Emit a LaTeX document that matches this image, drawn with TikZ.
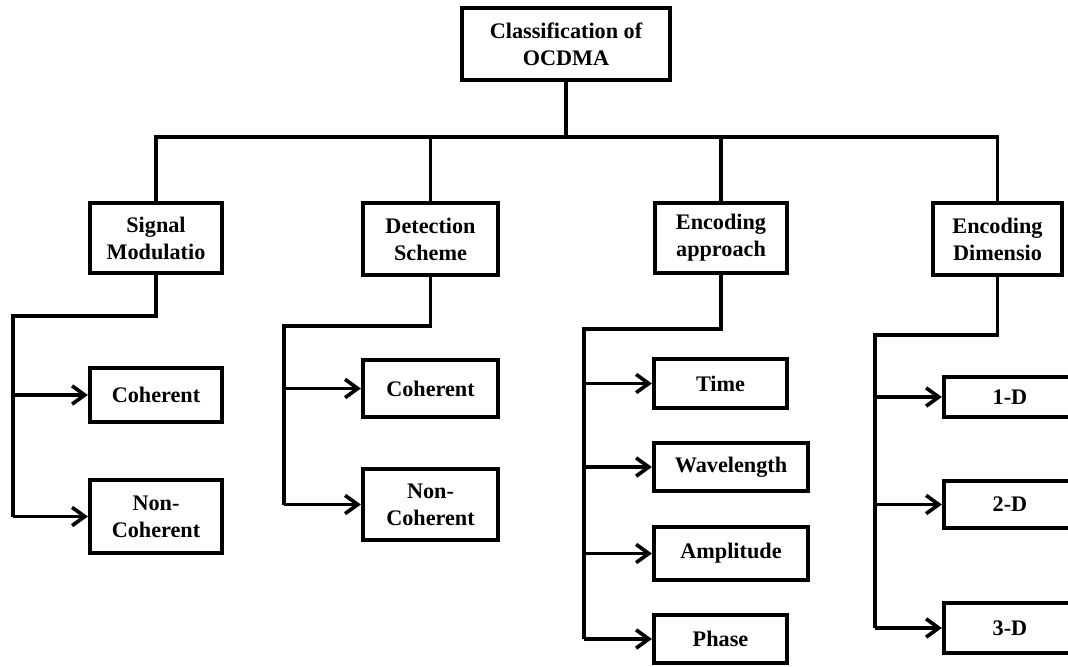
\documentclass[tikz,border=0pt]{standalone}
\usepackage{fontspec}
\setmainfont{Liberation Serif}
\usetikzlibrary{arrows.meta}

\begin{document}
\begin{tikzpicture}[x=0.025cm,y=-0.025cm,
    box/.style={draw, line width=3pt, align=center, inner sep=0pt,
      font=\fontsize{15.8}{19.2}\selectfont\bfseries},
    link/.style={line width=2.6pt, line join=miter},
    arr/.style={line width=2.6pt, -{Straight Barb[length=9pt,width=13pt,line width=2.6pt]}}]
    \clip (0,0) rectangle (1068,666);
    \node[box, line width=3.4pt, minimum width=5.2cm, minimum height=1.8cm] (root) at (566,44) {Classification of\\OCDMA};
    % second level
    \node[box, minimum width=3.3cm, minimum height=1.75cm] (sig) at (156,238) {Signal\\Modulatio};
    \node[box, minimum width=3.375cm, minimum height=1.8cm] (det) at (430.5,239) {Detection\\Scheme};
    \node[box, minimum width=3.3cm, minimum height=1.75cm] (enc) at (721,238) {Encoding\\approach};
    \node[box, minimum width=3.225cm, minimum height=1.8cm] (dim) at (997.5,239) {Encoding\\Dimensio};
    % third level
    \node[box, minimum width=3.3cm, minimum height=1.35cm] (coh1) at (156,395) {Coherent};
    \node[box, minimum width=3.3cm, minimum height=1.825cm] (nc1) at (156,516.5) {Non-\\Coherent};
    \node[box, minimum width=3.375cm, minimum height=1.425cm] (coh2) at (430.5,388.5) {Coherent};
    \node[box, minimum width=3.375cm, minimum height=1.775cm] (nc2) at (430.5,504.5) {Non-\\Coherent};
    \node[box, minimum width=3.325cm, minimum height=1.225cm] (time) at (720.5,383.5) {Time};
    \node[box, minimum width=3.85cm, minimum height=1.2cm] (wave) at (731,467) {Wavelength};
    \node[box, minimum width=3.85cm, minimum height=1.325cm] (ampl) at (731,553.5) {Amplitude};
    \node[box, minimum width=3.325cm, minimum height=1.2cm] (phase) at (720.5,639) {Phase};
    \node[box, minimum width=3.3cm, minimum height=1.0cm] (d1) at (1010,397) {1-D};
    \node[box, minimum width=3.3cm, minimum height=1.175cm] (d2) at (1010,504.5) {2-D};
    \node[box, minimum width=3.3cm, minimum height=1.25cm] (d3) at (1010,628) {3-D};
    % top bar
    \coordinate (bar) at (0,137);
    \draw[link] (root.south) -- (root.south |- bar);
    \draw[link] (sig.north) |- (dim.north |- bar) -- (dim.north);
    \draw[link] (det.north) -- (det.north |- bar);
    \draw[link] (enc.north) -- (enc.north |- bar);
    % branch corners
    \coordinate (k1) at (13,316);
    \coordinate (k2) at (284,326);
    \coordinate (k3) at (584,329);
    \coordinate (k4) at (875,335);
    \draw[link] (sig.south) |- (k1) -- (k1 |- nc1.west);
    \draw[link] (det.south) |- (k2) -- (k2 |- nc2.west);
    \draw[link] (enc.south) |- (k3) -- (k3 |- phase.west);
    \draw[link] (dim.south) |- (k4) -- (k4 |- d3.west);
    % arrows to the leaves
    \foreach \k/\n in {k1/coh1, k1/nc1, k2/coh2, k2/nc2, k3/time, k3/wave, k3/ampl, k3/phase, k4/d1, k4/d2, k4/d3}
      \draw[arr] (\k |- \n.west) -- (\n.west);
\end{tikzpicture}
\end{document}
